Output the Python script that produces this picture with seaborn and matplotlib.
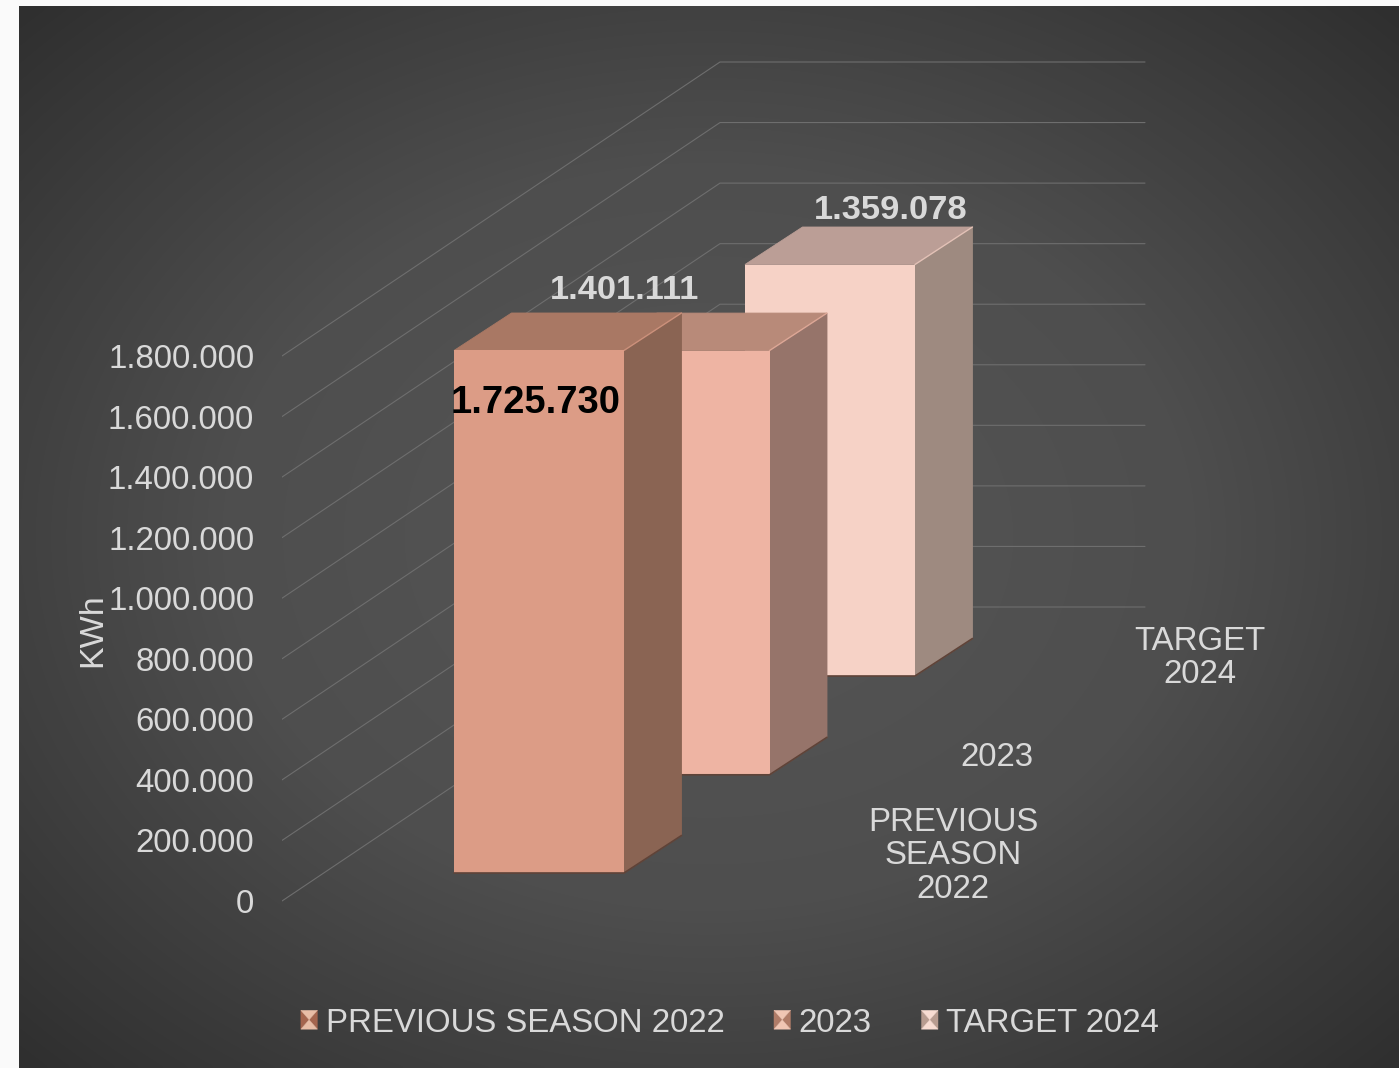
import numpy as np
import pandas as pd
import matplotlib
matplotlib.use("Agg")
import matplotlib.pyplot as plt
from matplotlib.colors import LinearSegmentedColormap
from matplotlib.legend_handler import HandlerBase
from matplotlib.patches import Patch, Polygon
import seaborn as sns

seasons = ["PREVIOUS SEASON 2022", "2023", "TARGET 2024"]
axis_labels = ["PREVIOUS\nSEASON\n2022", "2023", "TARGET\n2024"]
consumption = [1725730, 1401111, 1359078]
value_ticks = list(range(0, 1800001, 200000))

front_colors = ["#dc9c86", "#eeb4a3", "#f6d2c6"]
side_colors = ["#8a6453", "#96746a", "#9e8a80"]
top_colors = ["#a97864", "#b88a79", "#bb9e96"]
label_colors = ["#000000", "#d9d9d9", "#d9d9d9"]
label_offsets_px = [(-3, -53), (-60, 60), (61, 54)]
label_sizes = [27.5, 24.8, 24.8]
swatch_light = ["#e8bda6", "#f0c6b4", "#f8dcd2"]
swatch_dark = ["#a4654e", "#b07c68", "#b89c90"]
TEXT = "#d9d9d9"

# Oblique projection of the 3-D look, expressed in canvas pixels
W, H = 1399, 1068
KWH_PER_PX = 1800000 / 545
ZERO_Y = 901
FIRST_BAR_X = 539
BAR_STEP = 145.5
BAR_W = 170
FLOOR_Y = [873, 774.8, 676]
DEPTH_X, DEPTH_Y = 57.5, 37.5
WALL_X0, WALL_X1, WALL_X2 = 282, 720, 1145
WALL_RISE = 294


class BevelSwatch(HandlerBase):
    """Legend key drawn as a small square with a pyramid-style bevel."""

    def __init__(self, light, dark):
        super().__init__()
        self.light, self.dark = light, dark

    def create_artists(self, legend, orig_handle, xdescent, ydescent, width,
                       height, fontsize, trans):
        x0, y0 = -xdescent, -ydescent
        x1, y1 = x0 + width, y0 + height
        cx, cy = (x0 + x1) / 2, (y0 + y1) / 2
        faces = [
            ([(x0, y0), (x0, y1), (cx, cy)], self.dark),
            ([(x1, y0), (x1, y1), (cx, cy)], self.dark),
            ([(x0, y1), (x1, y1), (cx, cy)], self.light),
            ([(x0, y0), (x1, y0), (cx, cy)], self.light),
        ]
        return [Polygon(pts, closed=True, facecolor=c, edgecolor=c, lw=0.3,
                        transform=trans) for pts, c in faces]


sns.set_theme(style="dark", rc={"axes.grid": False})
plt.rcParams["font.family"] = ["Liberation Sans", "DejaVu Sans"]

fig = plt.figure(figsize=(W / 100, H / 100), dpi=100, facecolor="#fafafa")

# Panel background: radial gradient, lighter at the centre
bg = fig.add_axes([19 / W, 0, (W - 19) / W, (H - 6) / H], zorder=0)
yy, xx = np.mgrid[-1:1:300j, -1:1:400j]
radial = np.clip(np.sqrt(xx ** 2 + yy ** 2) / np.sqrt(2), 0, 1)
cmap = LinearSegmentedColormap.from_list("panel", ["#565656", "#4e4e4e", "#2f2f2f"])
bg.imshow(radial, cmap=cmap, aspect="auto", vmin=0, vmax=1, interpolation="bicubic")
bg.set_axis_off()

ax = fig.add_axes([WALL_X0 / W, 0, (W - WALL_X0) / W, 1], zorder=1)
ax.patch.set_alpha(0)


def pos(px):
    return (px - FIRST_BAR_X) / BAR_STEP


# Receding wall gridlines
for v in value_ticks:
    ax.plot(
        [pos(WALL_X0), pos(WALL_X1), pos(WALL_X2)],
        [v, v + WALL_RISE * KWH_PER_PX, v + WALL_RISE * KWH_PER_PX],
        color="#6e6e6e", lw=0.8, zorder=1, solid_joinstyle="miter",
    )

depth_x = DEPTH_X / BAR_STEP
depth_y = DEPTH_Y * KWH_PER_PX
half = BAR_W / BAR_STEP / 2

# Draw back to front so nearer boxes cover farther ones
for i in reversed(range(len(seasons))):
    z = 10 + (len(seasons) - i) * 3
    base = (ZERO_Y - FLOOR_Y[i]) * KWH_PER_PX
    top = base + consumption[i]
    frame = pd.DataFrame({"position": [float(i)], "KWh": [consumption[i]]})
    sns.barplot(
        data=frame, x="position", y="KWh", native_scale=True, width=2 * half,
        color=front_colors[i], saturation=1, bottom=base, linewidth=0,
        zorder=z + 1, ax=ax,
    )
    right = i + half
    left = i - half
    # A hairline in the face colour closes the seam between neighbouring faces
    ax.fill(
        [right, right + depth_x, right + depth_x, right],
        [base, base + depth_y, top + depth_y, top],
        facecolor=side_colors[i], edgecolor=side_colors[i], lw=0.6, zorder=z,
    )
    ax.fill(
        [left, right, right + depth_x, left + depth_x],
        [top, top, top + depth_y, top + depth_y],
        facecolor=top_colors[i], edgecolor=top_colors[i], lw=0.6, zorder=z,
    )
    ax.plot([left, right, right + depth_x], [base, base, base + depth_y],
            color="#5f4338", lw=1.2, zorder=z + 2)
    ax.plot([right, right + depth_x], [top, top + depth_y],
            color=front_colors[i], lw=1.0, alpha=0.7, zorder=z + 2)
    dx, dy = label_offsets_px[i]
    ax.annotate(
        f"{consumption[i]:,}".replace(",", "."),
        xy=(i, top), xytext=(dx * 0.72, dy * 0.72), textcoords="offset points",
        ha="center", va="center", color=label_colors[i], fontweight="bold",
        fontsize=label_sizes[i], zorder=30,
    )

ax.set_xlim(pos(WALL_X0), pos(W))
ax.set_ylim((ZERO_Y - H) * KWH_PER_PX, ZERO_Y * KWH_PER_PX)
ax.set_xticks([])
ax.set_xlabel("")
ax.set_ylabel("")
ax.set_yticks(value_ticks)
ax.set_yticklabels([f"{v:,}".replace(",", ".") for v in value_ticks],
                   color=TEXT, fontsize=23.8)
ax.tick_params(axis="y", length=0, pad=20)
for spine in ax.spines.values():
    spine.set_visible(False)

fig.text(93 / W, 1 - 630 / H, "KWh", rotation=90, color=TEXT, fontsize=24.5,
         ha="center", va="center", zorder=5)

# Depth-axis category names
category_xy = [(953, 856), (997, 757), (1200, 658)]
for (x, y), name in zip(category_xy, axis_labels):
    fig.text(x / W, 1 - y / H, name, color=TEXT, fontsize=23.8, ha="center",
             va="center", linespacing=1.12, zorder=5)

handles = [Patch(label=s) for s in seasons]
handler_map = {h: BevelSwatch(l, d) for h, l, d in zip(handles, swatch_light, swatch_dark)}
fig.legend(
    handles=handles, loc="center", bbox_to_anchor=(730 / W, 1 - 1023 / H), ncol=3,
    frameon=False, fontsize=23.8, labelcolor=TEXT, handlelength=0.5, handleheight=0.5,
    handletextpad=0.25, columnspacing=1.5, borderpad=0, handler_map=handler_map,
)

fig.savefig("out.png", dpi=100, facecolor=fig.get_facecolor())
